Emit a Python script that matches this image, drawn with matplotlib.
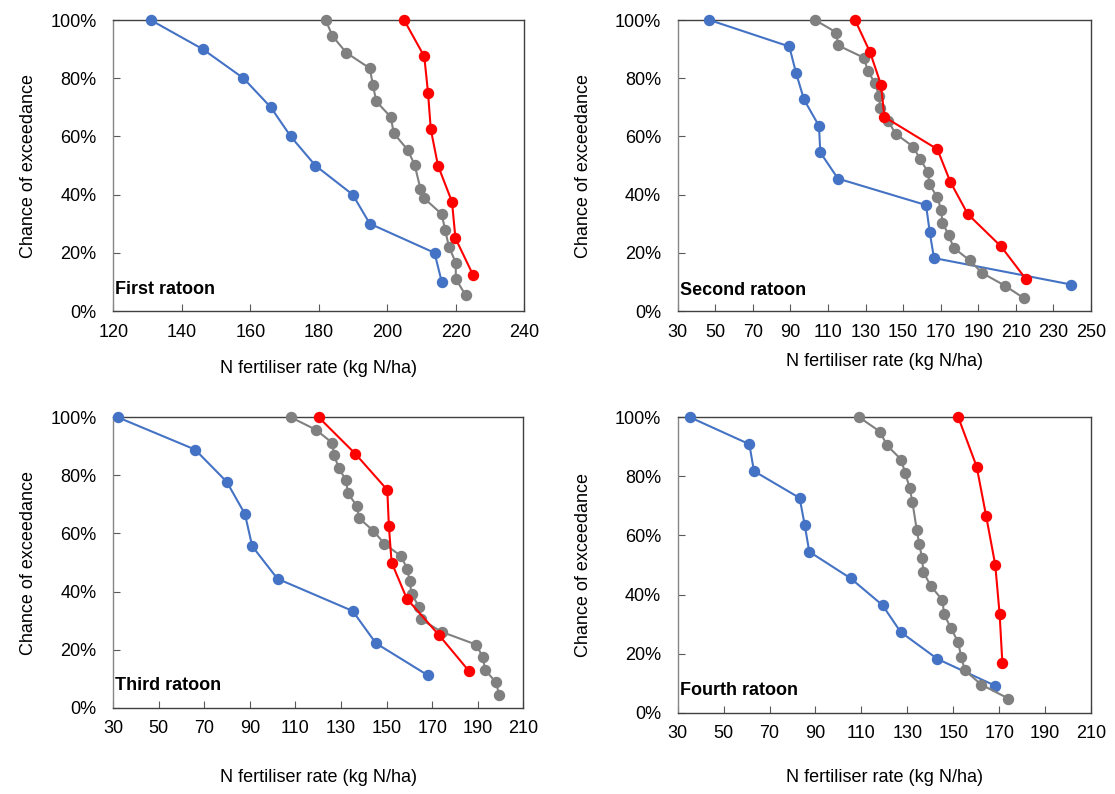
import numpy as np
import matplotlib.pyplot as plt
from matplotlib.ticker import PercentFormatter

plt.rcParams['font.family'] = ['Liberation Sans', 'DejaVu Sans']

# N rate (kg N/ha) vs chance of exceedance (%) for each ratoon
# first ratoon
blue_x1 = [130.9, 146.1, 158.0, 166.0, 171.8, 179.0, 189.9, 194.9, 213.8, 215.9]
blue_y1 = [100, 90, 80, 70, 60, 50, 40, 30, 20, 10]
red_x1 = [204.9, 210.8, 211.9, 212.7, 214.8, 218.9, 219.9, 225.0]
red_y1 = [100, 87.5, 75, 62.5, 50, 37.5, 25, 12.5]
gray_x1 = [182.0, 184.0, 188.0, 194.9, 195.8, 196.8, 201.0, 201.9, 206.0, 208.0,
           209.7, 210.8, 215.9, 216.9, 218.0, 220.0, 220.0, 222.9]
gray_y1 = [100, 94.5, 88.8, 83.4, 77.7, 72.0, 66.7, 61.1, 55.3, 50.2,
           41.9, 38.7, 33.3, 27.8, 22.1, 16.6, 11.0, 5.4]

# second ratoon
blue_x2 = [46.9, 89.4, 93.0, 97.2, 105.2, 105.9, 115.3, 162.2, 164.1, 166.4, 239.4]
blue_y2 = [100, 90.9, 81.8, 72.7, 63.6, 54.5, 45.5, 36.4, 27.3, 18.2, 9.1]
red_x2 = [124.4, 132.4, 138.2, 140.0, 168.2, 175.1, 184.4, 202.1, 215.2]
red_y2 = [100, 88.9, 77.8, 66.7, 55.6, 44.4, 33.3, 22.2, 11.1]
gray_x2 = [103.1, 114.5, 115.3, 129.2, 131.1, 135.0, 137.2, 137.9, 142.1, 146.0,
           155.3, 159.0, 163.2, 164.0, 168.2, 170.2, 170.9, 174.2, 176.9, 185.4,
           192.2, 204.2, 214.5]
gray_y2 = [100, 95.7, 91.3, 87.0, 82.6, 78.3, 73.9, 69.6, 65.2, 60.9,
           56.5, 52.2, 47.8, 43.5, 39.1, 34.8, 30.4, 26.1, 21.7, 17.4,
           13.0, 8.7, 4.3]

# third ratoon
blue_x3 = [32.0, 65.9, 79.8, 87.8, 91.0, 102.1, 135.1, 145.3, 168.2]
blue_y3 = [100, 88.9, 77.8, 66.7, 55.6, 44.4, 33.3, 22.2, 11.1]
red_x3 = [120.2, 136.2, 150.3, 151.0, 152.2, 158.9, 173.0, 186.3]
red_y3 = [100, 87.5, 75, 62.5, 50, 37.5, 25, 12.5]
gray_x3 = [108.0, 119.0, 126.0, 127.0, 128.9, 132.2, 133.0, 136.8, 138.0, 144.2,
           149.0, 156.3, 159.1, 160.1, 161.0, 164.2, 165.1, 174.2, 189.4, 192.2,
           193.3, 198.0, 199.5]
gray_y3 = gray_y2

# fourth ratoon
blue_x4 = [35.4, 61.2, 63.2, 83.1, 85.3, 87.3, 105.3, 119.2, 127.1, 143.1, 168.3]
blue_y4 = [100, 90.9, 81.8, 72.7, 63.6, 54.5, 45.5, 36.4, 27.3, 18.2, 9.1]
red_x4 = [152.2, 160.2, 164.3, 168.3, 170.2, 171.4]
red_y4 = [100, 83.3, 66.7, 50.0, 33.3, 16.7]
gray_x4 = [109.1, 118.0, 121.2, 127.3, 129.1, 131.0, 132.2, 134.1, 135.2, 136.4,
           137.0, 140.2, 145.3, 146.0, 149.0, 152.2, 153.4, 155.1, 162.2, 174.0]
gray_y4 = [100, 95.2, 90.5, 85.7, 81.0, 76.2, 71.4, 61.9, 57.1, 52.4,
           47.6, 42.9, 38.1, 33.3, 28.6, 23.8, 19.0, 14.3, 9.5, 4.8]

panels = [
    ('First ratoon', blue_x1, blue_y1, gray_x1, gray_y1, red_x1, red_y1, (120, 240), 20),
    ('Second ratoon', blue_x2, blue_y2, gray_x2, gray_y2, red_x2, red_y2, (30, 250), 20),
    ('Third ratoon', blue_x3, blue_y3, gray_x3, gray_y3, red_x3, red_y3, (30, 210), 20),
    ('Fourth ratoon', blue_x4, blue_y4, gray_x4, gray_y4, red_x4, red_y4, (30, 210), 20),
]

# axes boxes in figure fraction, plus label offsets
boxes = [
    [0.1016, 0.6083, 0.3686, 0.3665],
    [0.6078, 0.6083, 0.3707, 0.3665],
    [0.1016, 0.1087, 0.3677, 0.3657],
    [0.6078, 0.1024, 0.3707, 0.3720],
]
xlab_y = [-0.196, -0.175, -0.242, -0.218]
ylab_x = [-0.207, -0.229, -0.208, -0.229]
name_y = [0.075, 0.072, 0.078, 0.075]

fig = plt.figure(figsize=(11.15, 7.94), dpi=100)

for i, (name, bx, by, gx, gy, rx, ry, xlim, step) in enumerate(panels):
    ax = fig.add_axes(boxes[i])
    ax.plot(bx, np.array(by) / 100, color='#4472C4', marker='o', ms=7.2, lw=1.5, clip_on=False, zorder=3)
    ax.plot(gx, np.array(gy) / 100, color='#808080', marker='o', ms=7.2, lw=1.5, clip_on=False, zorder=3)
    ax.plot(rx, np.array(ry) / 100, color='#FF0000', marker='o', ms=7.2, lw=1.5, clip_on=False, zorder=4)

    ax.set_xlim(*xlim)
    ax.set_ylim(0, 1)
    ax.set_xticks(np.arange(xlim[0], xlim[1] + 1, step))
    ax.set_yticks(np.arange(0, 1.01, 0.2))
    ax.yaxis.set_major_formatter(PercentFormatter(1.0, decimals=0))
    ax.tick_params(axis='both', direction='in', length=5, labelsize=13, color='#595959')
    ax.tick_params(axis='y', pad=12)
    ax.tick_params(axis='x', pad=9)

    for s in ax.spines.values():
        s.set_color('#404040')
        s.set_linewidth(1.0)
    ax.spines['left'].set_color('#868686')

    ax.set_xlabel('N fertiliser rate (kg N/ha)', fontsize=13)
    ax.xaxis.set_label_coords(0.5, xlab_y[i])
    ax.xaxis.label.set_va('center')
    ax.set_ylabel('Chance of exceedance', fontsize=13)
    ax.yaxis.set_label_coords(ylab_x[i], 0.5)
    ax.yaxis.label.set_va('center')

    ax.text(0.005, name_y[i], name, transform=ax.transAxes, fontsize=13,
            fontweight='bold', va='center', ha='left')

fig.savefig('out.png', dpi=100)
